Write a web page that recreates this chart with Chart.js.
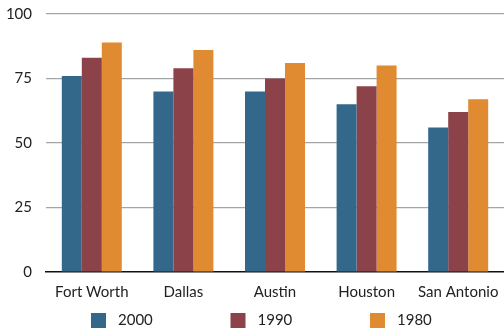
<!DOCTYPE html>
<html>
<head>
<meta charset="utf-8">
<script src="https://cdn.jsdelivr.net/npm/chart.js@4/dist/chart.umd.min.js"></script>
<style>
  html, body { margin: 0; padding: 0; background: #fff; }
  #wrap { width: 504px; height: 328px; position: relative; }
</style>
</head>
<body>
<div id="wrap"><canvas id="chart"></canvas></div>
<script>
// Data
const cities = ["Fort Worth", "Dallas", "Austin", "Houston", "San Antonio"];
const years = ["2000", "1990", "1980"];
const values2000 = [76, 70, 70, 65, 56];
const values1990 = [83, 79, 75, 72, 62];
const values1980 = [89, 86, 81, 80, 67];
const yTicks = [0, 25, 50, 75, 100];

const colors = ["#34688a", "#8c4249", "#e08b32"];
const FONT = "Lato, 'Open Sans', sans-serif";

// Legend drawn under the plot, spread wide like the original
const wideLegend = {
  id: "wideLegend",
  afterDraw(chart) {
    const ctx = chart.ctx;
    const pitch = 139.5;
    const first = chart.width / 2 - 161;
    const box = 15;
    const y = chart.height - box;
    ctx.save();
    ctx.font = "15px " + FONT;
    ctx.textBaseline = "middle";
    chart.data.datasets.forEach((ds, i) => {
      const x = first + i * pitch;
      ctx.fillStyle = ds.backgroundColor;
      ctx.fillRect(x, y, box, box);
      ctx.fillStyle = "#222";
      ctx.fillText(ds.label, x + box + 12, y + box / 2);
    });
    ctx.restore();
  },
};

const chart = new Chart(document.getElementById("chart").getContext("2d"), {
  type: "bar",
  data: {
    labels: cities,
    datasets: [
      { label: years[0], data: values2000, backgroundColor: colors[0] },
      { label: years[1], data: values1990, backgroundColor: colors[1] },
      { label: years[2], data: values1980, backgroundColor: colors[2] },
    ],
  },
  options: {
    responsive: true,
    maintainAspectRatio: false,
    animation: false,
    layout: { padding: { top: 14, right: 0, bottom: 27, left: 0 } },
    datasets: {
      bar: { categoryPercentage: 0.655, barPercentage: 1.0 },
    },
    plugins: {
      legend: { display: false },
      tooltip: { enabled: false },
    },
    scales: {
      x: {
        afterFit: (axis) => {
          axis.height = 29;
          axis.paddingLeft = 0;
          axis.paddingRight = 0;
        },
        grid: { display: false, drawTicks: false },
        border: { display: true, color: "#111", width: 1.5 },
        ticks: { color: "#222", font: { family: FONT, size: 15 }, padding: 11, maxRotation: 0 },
      },
      y: {
        min: 0,
        max: 100,
        afterBuildTicks: (axis) => { axis.ticks = yTicks.map((v) => ({ value: v })); },
        afterFit: (axis) => {
          axis.width = 46;
          axis.paddingTop = 0;
          axis.paddingBottom = 0;
        },
        grid: {
          color: (c) => (c.tick && c.tick.value === 0 ? "rgba(0,0,0,0)" : "#a3a6a9"),
          lineWidth: 1.2,
          drawTicks: false,
        },
        border: { display: false },
        ticks: { color: "#222", font: { family: FONT, size: 15 }, padding: 14 },
      },
    },
  },
  plugins: [wideLegend],
});
</script>
</body>
</html>
